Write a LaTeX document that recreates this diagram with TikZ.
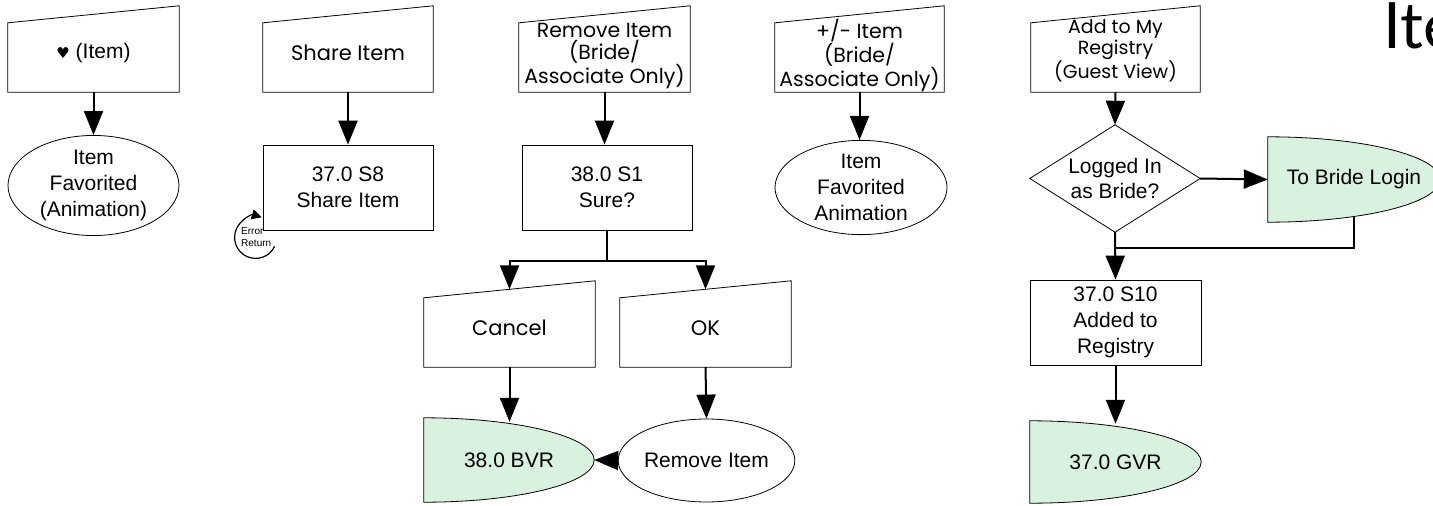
\documentclass[tikz,border=0pt]{standalone}
\usepackage{fontspec}
\setmainfont{Liberation Sans}
\newfontfamily\geo{Poppins}
\newfontfamily\dejavu{DejaVu Sans}
\newfontfamily\titlefont{Lato}
\usetikzlibrary{arrows.meta,shapes.geometric,calc,backgrounds}
\definecolor{termgreen}{RGB}{217,241,223}
\newcommand\manualin[1]{\draw[outline] ($(#1.north west)+(0,8.5)$) -- ($(#1.north east)+(0,-8.5)$) -- (#1.south east) -- (#1.south west) -- cycle;}
\newcommand\diamondin[1]{\draw[outline] (#1.north) -- (#1.east) -- (#1.south) -- (#1.west) -- cycle;}
\newcommand\termin[1]{\begin{scope}[on background layer]\filldraw[outline,fill=termgreen] (#1.north west) .. controls ($(#1.north west)!0.5523!(#1.north east)$) and ($(#1.east)!0.5523!(#1.north east)$) .. (#1.east) .. controls ($(#1.east)!0.5523!(#1.south east)$) and ($(#1.south west)!0.5523!(#1.south east)$) .. (#1.south west) -- cycle;\end{scope}}
\begin{document}
\begin{tikzpicture}[x=1pt,y=-1pt,
  outline/.style={draw=black,line width=0.8pt},
  base/.style={rectangle,inner sep=0pt,align=center,font=\fontsize{21}{26}\selectfont},
  mbox/.style={base,minimum width=171pt,minimum height=77.5pt},
  geotext/.style={font=\geo\fontsize{21}{22}\selectfont},
  geolabel/.style={align=center,inner sep=0pt,font=\geo\fontsize{20.5}{22}\selectfont},
  rbox/.style={base,draw,line width=0.8pt,minimum width=170pt,minimum height=85pt},
  oval/.style={base,ellipse,draw,line width=0.8pt,minimum width=171pt,minimum height=85pt},
  term/.style={base,minimum width=171pt,minimum height=84pt},
  conn/.style={line width=2pt},
  arr/.style={conn,-{Triangle[length=24pt,width=19pt]}}]
\begin{scope}[on background layer]
\fill[white] (0,0) rectangle (1433,506);
\end{scope}
\clip (0,0) rectangle (1433,506);
% column 1
\node[mbox] (heart) at (93.5,53.25) {{\dejavu\fontsize{15}{15}\selectfont ♥} (Item)};
\manualin{heart}
\node[oval] (fav1) at (93.5,185.5) {\rule{0pt}{12pt}Item\\Favorited\\(Animation)};
\draw[arr] (heart.south) -- (fav1.north);
% column 2
\node[mbox,minimum width=170pt,geotext] (share) at (348,53.25) {Share Item};
\manualin{share}
\node[rbox] (s8) at (348,187.5) {37.0 S8\\Share Item};
\draw[arr] (share.south) -- (s8.north);
\draw[line width=1.2pt,-{Triangle[length=10pt,width=10pt]}] ($(s8.south west)+(-7,7)$) ++(25:21) arc[start angle=25,end angle=287,radius=21];
\node[anchor=west,align=left,inner sep=0pt,font=\fontsize{10}{12}\selectfont] (err) at (241,237) {Error\\Return};
% column 3
\node[mbox,label={[geolabel,yshift=-2.5pt]center:Remove Item\\(Bride/\\Associate Only)}] (rem) at (604.5,53.25) {};
\manualin{rem}
\node[rbox] (s1) at (607,187.5) {38.0 S1\\Sure?};
\draw[arr] (rem.south) -- (rem.south |- s1.north);
\node[mbox,geotext] (cancel) at (509.5,328.25) {Cancel};
\manualin{cancel}
\node[mbox,geotext] (okb) at (705.5,328.25) {OK};
\manualin{okb}
\draw[arr] (s1.south) -- ++(0,31) -| (cancel.north);
\draw[arr] (s1.south) -- ++(0,31) -| (okb.north);
\node[term,minimum width=170pt] (bvr) at (509,460) {38.0 BVR};
\termin{bvr}
\node[oval,minimum width=169pt,minimum height=83pt] (rmv) at (706.5,460.5) {Remove Item};
\draw[arr] (cancel.south) -- ($(cancel.south |- bvr.north)+(0,4)$);
\draw[arr] (okb.south) -- (rmv.north);
\draw[arr] (rmv.west) -- (bvr.east);
% column 4
\node[mbox,minimum width=169pt,label={[geolabel,yshift=-2.5pt]center:+/- Item\\(Bride/\\Associate Only)}] (pm) at (859.5,53.25) {};
\manualin{pm}
\node[oval,minimum width=172pt] (fav2) at (861,187.5) {\rule{0pt}{12pt}Item\\Favorited\\Animation};
\draw[arr] (pm.south) -- (pm.south |- fav2.north);
% column 5
\node[mbox,minimum width=169pt,label={[geolabel,font=\geo\fontsize{19}{16.5}\selectfont,yshift=2.5pt]center:Add to My\\Registry\\(Guest View)}] (add) at (1115.5,53.25) {};
\manualin{add}
\node[base,minimum width=170pt,minimum height=107pt,font=\fontsize{21}{25}\selectfont] (dia) at (1115,178.5) {Logged In\\as Bride?};
\diamondin{dia}
\node[term,minimum width=172pt,minimum height=85pt] (login) at (1354,179.5) {To Bride Login};
\termin{login}
\node[rbox,minimum width=171pt] (s10) at (1115.5,322.5) {37.0 S10\\Added to\\Registry};
\node[term,minimum height=82pt] (gvr) at (1115.5,462) {37.0 GVR};
\termin{gvr}
\draw[arr] (add.south) -- (dia.north);
\draw[arr] (dia.east) -- (login.west);
\coordinate (j) at (1115,248);
\draw[conn] ($(login.south)+(0,-6)$) |- (j);
\draw[arr] (dia.south) -- (s10.north);
\draw[arr] (s10.south) -- ($(gvr.north)+(0,3)$);
% title
\node[anchor=base west,inner sep=0pt,font=\titlefont\fontsize{64}{64}\selectfont] (title) at (1383,48) {Ite};
\end{tikzpicture}
\end{document}
